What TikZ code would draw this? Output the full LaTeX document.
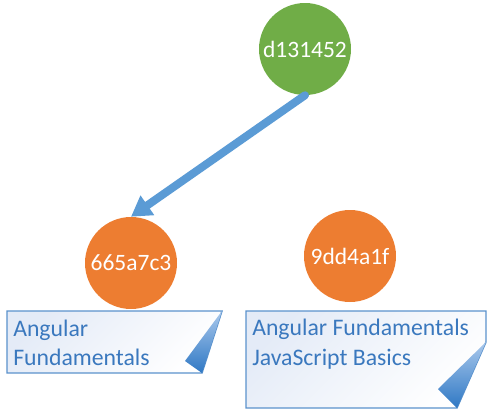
\documentclass[tikz,border=0pt]{standalone}
\usepackage{fontspec}
\setmainfont{Carlito}
\usetikzlibrary{arrows.meta}
\definecolor{gitgreen}{HTML}{70AD47}
\definecolor{gitorange}{HTML}{ED7D31}
\definecolor{arrowblue}{HTML}{5B9BD5}
\definecolor{noteborder}{HTML}{5B92CC}
\definecolor{notetext}{HTML}{3A78BE}
\definecolor{notetl}{HTML}{E4EBF7}
\definecolor{foldlight}{HTML}{A9C8EC}
\definecolor{folddark}{HTML}{2F78C4}
\begin{document}
\begin{tikzpicture}[x=0.75pt,y=-0.75pt,
  commit/.style={circle, minimum size=69pt, inner sep=0pt, text=white,
    font=\fontsize{17.6}{21}\selectfont},
  greencommit/.style={commit, fill=gitgreen},
  orangecommit/.style={commit, fill=gitorange},
  parentarrow/.style={draw=arrowblue, line width=6pt, line cap=round,
    -{Triangle[length=15pt,width=17pt]}},
  notebox/.style={top color=notetl, bottom color=white, shading angle=45,
    draw=noteborder, line width=1.1pt, line join=miter},
  notefold/.style={top color=foldlight, bottom color=folddark},
  notetxt/.style={anchor=base west, inner sep=0pt, text=notetext,
    font=\fontsize{17.8}{22.5}\selectfont}]
\useasboundingbox (0,0) rectangle (487,411);

% commits
\node[greencommit] (g) at (305,49) {d131452};
\node[orangecommit] (o1) at (131,263) {665a7c3};
\node[orangecommit] (o2) at (350,256) {9dd4a1f};

% parent arrow
\draw[parentarrow] (g.south) -- (o1.north);

% note 1
\path[notebox] (7,311) -- (222,311) -- (202,373) -- (7,373) -- cycle;
\shade[notefold] (222,311) -- (185,361) -- (202,373) -- cycle;
\node[notetxt] (n1a) at (13,336) {Angular};
\node[notetxt] (n1b) at (13,365) {Fundamentals};

% note 2
\path[notebox] (246,311) -- (486,311) -- (486,342) -- (457,408) -- (246,408) -- cycle;
\shade[notefold] (486,342) -- (438,389) -- (457,408) -- cycle;
\node[notetxt] (n2a) at (252,335) {Angular Fundamentals};
\node[notetxt] (n2b) at (252,365) {JavaScript Basics};
\end{tikzpicture}
\end{document}
